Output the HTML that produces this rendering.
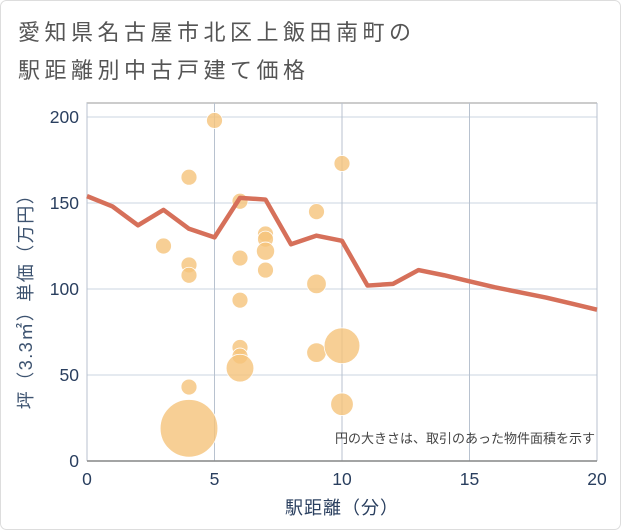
<!DOCTYPE html>
<html><head><meta charset="utf-8"><style>
body{margin:0;background:#fff;}
#wrap{position:relative;width:621px;height:530px;overflow:hidden;font-family:"Liberation Sans","Noto Sans CJK JP",sans-serif;}
</style></head><body>
<div id="wrap">
<svg id="chart" width="621" height="530" xmlns="http://www.w3.org/2000/svg">
<rect x="0.5" y="0.5" width="620" height="529" rx="6" fill="#fff" stroke="#ddd"/>
<text x="18" y="40" font-size="22" letter-spacing="4.5" fill="#555" font-family="Liberation Sans, Noto Sans CJK JP, sans-serif">愛知県名古屋市北区上飯田南町の</text>
<text x="18" y="78" font-size="22" letter-spacing="4.5" fill="#555" font-family="Liberation Sans, Noto Sans CJK JP, sans-serif">駅距離別中古戸建て価格</text>
<g id="grid"></g>
<g id="bubbles"></g>
<g id="lineg"></g>
<g id="axes"></g>
<text x="595" y="443" font-size="13" fill="#444" text-anchor="end" font-family="Liberation Sans, Noto Sans CJK JP, sans-serif">円の大きさは、取引のあった物件面積を示す</text>
<text x="342" y="514" font-size="18" letter-spacing="1" fill="#2a3f5f" text-anchor="middle" font-family="Liberation Sans, Noto Sans CJK JP, sans-serif">駅距離（分）</text>
<text transform="translate(32,297) rotate(-90)" font-size="18" letter-spacing="1.5" fill="#3d5370" text-anchor="middle" font-family="Liberation Sans, Noto Sans CJK JP, sans-serif">坪（3.3㎡）単価（万円）</text>
</svg>
</div>
<script>
const bubbleX=[3,4,4,4,4,4,5,6,6,6,6,6,6,7,7,7,7,9,9,9,10,10,10];
const bubbleY=[125,165,114,108,43,19,198,151,118,93.5,66,61,54,132,129,122,111,145,103,63,173,67,33];
const bubbleSize=[1,1,1,1,1,13,1,1,1,1,1,1,3,1,1,1.3,1,1,1.5,1.5,1,5,2];
const lineX=[0,1,2,3,4,5,6,7,8,9,10,11,12,13,14,15,16,17,18,19,20];
const lineY=[154,148,137,146,135,130,153,152,126,131,128,102,103,111,108,104.5,101,98,95,91.5,88];
const xTicks=[0,5,10,15,20];
const yTicks=[0,50,100,150,200];
const L=87,R=597,T=103,B=461;
const xs=v=>L+(v/20)*(R-L);
const ys=v=>B-(v/200)*(B-117);
const NS='http://www.w3.org/2000/svg';
function mk(tag,attrs,parent){const e=document.createElementNS(NS,tag);for(const k in attrs)e.setAttribute(k,attrs[k]);parent.appendChild(e);return e;}
const grid=document.getElementById('grid'),axes=document.getElementById('axes'),bub=document.getElementById('bubbles'),lg=document.getElementById('lineg');
const bg=mk('rect',{x:L,y:T,width:R-L,height:B-T,fill:'#fff'},grid);


const tl=mk('path',{d:'M'+L+','+B+' V'+T+' H'+R,fill:'none',stroke:'#999','stroke-width':1},grid);


yTicks.forEach(t=>{
  const l=mk('line',{x1:L,x2:R,y1:ys(t),y2:ys(t),stroke:'#d5dde8','stroke-width':1.2},grid);
  
  
  const tx=mk('text',{x:L-8,y:ys(t)+6,'text-anchor':'end','font-size':17.5,fill:'#2a3f5f'},axes);
  tx.textContent=t;
  
  
});
xTicks.forEach(t=>{
  const l=mk('line',{x1:xs(t),x2:xs(t),y1:T,y2:B,stroke:'#b8c2cf','stroke-width':1},grid);
  
  
  const tx=mk('text',{x:xs(t),y:B+24,'text-anchor':'middle','font-size':17.5,fill:'#2a3f5f'},axes);
  tx.textContent=t;
  
  
});
const ax=mk('line',{x1:L,x2:R,y1:B,y2:B,stroke:'#888','stroke-width':1.5},axes);


bubbleX.forEach((x,i)=>{
  const c=mk('circle',{cx:xs(x),cy:ys(bubbleY[i]),r:8*Math.sqrt(bubbleSize[i]),fill:'#f5c37a','fill-opacity':0.8,stroke:'#fff','stroke-width':0.8},bub);
  
  
});
const pl=mk('polyline',{points:lineX.map((x,i)=>xs(x)+','+ys(lineY[i])).join(' '),fill:'none',stroke:'#d6705a','stroke-width':4.5,'stroke-linejoin':'round'},lg);


</script>
</body></html>
